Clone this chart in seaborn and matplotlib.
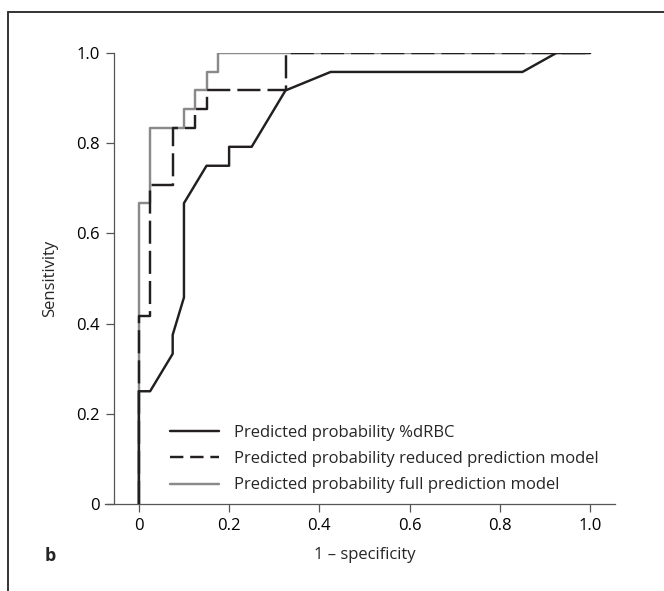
import numpy as np
import pandas as pd
import seaborn as sns
import matplotlib.pyplot as plt
from matplotlib.lines import Line2D

# ROC curve points (1 - specificity, sensitivity)
drbc_fpr = [0, 0, 0.025, 0.075, 0.075, 0.1, 0.1, 0.15, 0.2, 0.2, 0.25, 0.325, 0.425, 0.85, 0.925, 1.0]
drbc_tpr = [0, 0.25, 0.25, 0.333, 0.375, 0.458, 0.667, 0.75, 0.75, 0.792, 0.792, 0.917, 0.958, 0.958, 1.0, 1.0]

reduced_fpr = [0, 0, 0.025, 0.025, 0.075, 0.075, 0.125, 0.125, 0.15, 0.15, 0.325, 0.325, 1.0]
reduced_tpr = [0, 0.417, 0.417, 0.708, 0.708, 0.833, 0.833, 0.875, 0.875, 0.917, 0.917, 1.0, 1.0]

full_fpr = [0, 0, 0.025, 0.025, 0.1, 0.1, 0.125, 0.125, 0.15, 0.15, 0.175, 0.175, 1.0]
full_tpr = [0, 0.667, 0.667, 0.833, 0.833, 0.875, 0.875, 0.917, 0.917, 0.958, 0.958, 1.0, 1.0]

labels = ["Predicted probability %dRBC",
          "Predicted probability reduced prediction model",
          "Predicted probability full prediction model"]

ticks = [0, 0.2, 0.4, 0.6, 0.8, 1.0]
tick_labels = ["0", "0.2", "0.4", "0.6", "0.8", "1.0"]

sns.set_style("white")
plt.rcParams['font.family'] = ['Open Sans', 'DejaVu Sans']

fig = plt.figure(figsize=(6.64, 5.91), dpi=100)
ax = fig.add_axes([114 / 664, 87 / 591, 501 / 664, 451 / 591])

dark = "#231f20"
grey = "#8a8a8a"
lw = 1.75

full_df = pd.DataFrame({"fpr": full_fpr, "tpr": full_tpr})
drbc_df = pd.DataFrame({"fpr": drbc_fpr, "tpr": drbc_tpr})
reduced_df = pd.DataFrame({"fpr": reduced_fpr, "tpr": reduced_tpr})

sns.lineplot(data=full_df, x="fpr", y="tpr", sort=False, estimator=None,
             color=grey, lw=lw, ax=ax, zorder=2)
sns.lineplot(data=drbc_df, x="fpr", y="tpr", sort=False, estimator=None,
             color=dark, lw=lw, ax=ax, zorder=3)
sns.lineplot(data=reduced_df, x="fpr", y="tpr", sort=False, estimator=None,
             color=dark, lw=lw, ax=ax, zorder=4, linestyle=(0, (9.5, 2.9)))

ax.set_xlim(-0.055, 1.055)
ax.set_ylim(0, 1.0)
ax.set_xticks(ticks)
ax.set_xticklabels(tick_labels)
ax.set_yticks(ticks)
ax.set_yticklabels(tick_labels)
ax.tick_params(axis="both", direction="out", length=6, width=0.9, color="#555555",
               labelsize=12, labelcolor="black", bottom=True, left=True, pad=4)

for side in ["top", "right"]:
    ax.spines[side].set_visible(False)
for side in ["left", "bottom"]:
    ax.spines[side].set_color("#555555")
    ax.spines[side].set_linewidth(0.9)
ax.spines["bottom"].set_bounds(-0.075, 1.055)

ax.set_xlabel("1 \u2013 specificity", fontsize=12, labelpad=9.5)
ax.set_ylabel("Sensitivity", fontsize=12, labelpad=13)

handles = [
    Line2D([], [], color=dark, lw=lw),
    Line2D([], [], color=dark, lw=lw, linestyle=(0, (5.5, 2.8))),
    Line2D([], [], color=grey, lw=lw),
]
ax.legend(handles, labels, loc="lower left", bbox_to_anchor=(0.096, 0.005),
          frameon=False, fontsize=12, handlelength=2.9, handletextpad=0.9,
          labelspacing=0.62, borderpad=0)

fig.text(50 / 664, 1 - 556 / 591, "b", fontsize=13, fontweight="bold",
         ha="center", va="center")

# border of the panel (top and left edges)
fig.add_artist(Line2D([8 / 664, 1], [1 - 12 / 591, 1 - 12 / 591],
                      transform=fig.transFigure, color="#333333", lw=1.4))
fig.add_artist(Line2D([8 / 664, 8 / 664], [0, 1 - 12 / 591],
                      transform=fig.transFigure, color="#333333", lw=1.4))

fig.savefig("out.png", dpi=100)
